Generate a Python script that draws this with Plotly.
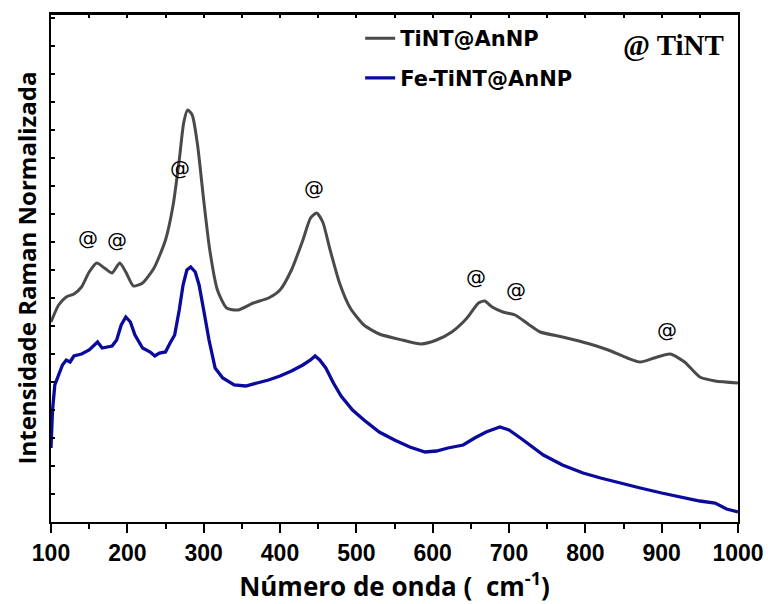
import plotly.graph_objects as go

# TiNT@AnNP (gray)
w_tint = [100,110,120,130,140,150,160,170,180,190,198,208,220,235,250,260,268,274,279,285,292,300,308,318,330,345,365,385,400,415,430,440,448,456,465,478,492,510,530,560,585,605,625,645,660,668,678,692,708,725,741,770,806,830,855,872,890,911,930,950,970,1000]
i_tint = [200,217,225,228,235,250,259,254,249,259,250,236,239,254,282,317,362,400,412,407,377,322,272,232,214,212,219,224,232,252,282,304,309,300,274,239,214,197,188,182,178,182,190,204,219,221,215,210,207,198,190,185,178,172,164,160,164,168,160,145,141,139]

# Fe-TiNT@AnNP (blue)
w_fe = [100,102,105,110,115,120,125,130,140,150,156,161,167,173,180,186,192,198,204,210,220,230,236,242,250,256,262,268,273,278,283,289,294,300,307,315,325,340,355,370,385,400,415,430,440,446,452,460,470,480,495,510,530,550,570,590,605,620,640,655,670,688,700,715,730,745,770,797,820,850,872,900,925,950,970,985,1000]
i_fe = [74,112,137,147,157,162,160,166,168,172,177,180,174,175,176,182,197,205,200,187,174,170,166,169,170,179,187,212,237,252,255,250,237,212,182,154,144,137,136,139,142,146,151,157,162,166,162,154,139,126,112,102,90,82,75,70,71,74,77,84,90,95,92,84,75,67,57,49,44,38,34,29,25,21,19,13,10]

# x tick labels
x_ticks = [100, 200, 300, 400, 500, 600, 700, 800, 900, 1000]
x_ticklabels = ["<b>%d</b>" % v for v in x_ticks]

# "@" markers (TiNT peaks) label positions
at_x = [148, 187, 269, 444, 657, 709, 907]
at_y = [284, 282, 354, 334, 245, 232, 192]

fig = go.Figure()
fig.add_trace(go.Scatter(x=w_tint, y=i_tint, mode="lines", name="<b>TiNT@AnNP</b>",
                         line=dict(color="#4a4a4a", width=3, shape="spline", smoothing=0.6),
                         legend="legend", showlegend=True))
fig.add_trace(go.Scatter(x=w_fe, y=i_fe, mode="lines", name="<b>Fe-TiNT@AnNP</b>",
                         line=dict(color="#0a0a9c", width=3.3),
                         legend="legend2", showlegend=True))
# top axis (inward ticks)
fig.add_trace(go.Scatter(x=[100, 1000], y=[0, 0], xaxis="x2", mode="lines",
                         line=dict(width=0), showlegend=False, hoverinfo="skip"))

for xx, yy in zip(at_x, at_y):
    fig.add_annotation(x=xx, y=yy, text="@", showarrow=False,
                       font=dict(family="DejaVu Sans", size=20, color="black"))

fig.add_annotation(x=915, y=477, text="<b>@ TiNT</b>", showarrow=False,
                   font=dict(family="Liberation Serif", size=29, color="black"))

# top edge of the frame, in axis-domain coordinates
fig.add_shape(type="line", xref="x domain", yref="y domain", x0=0, x1=1, y0=1, y1=1,
              line=dict(color="black", width=2), layer="above")

legfont = dict(family="DejaVu Sans", size=21, color="black")
fig.update_layout(
    width=768, height=604,
    showlegend=True,
    margin=dict(l=51, r=30, t=14, b=82, autoexpand=False),
    paper_bgcolor="white", plot_bgcolor="white",
    legend=dict(x=0.45, y=0.992, xanchor="left", yanchor="top", font=legfont,
                bgcolor="rgba(0,0,0,0)", itemwidth=30),
    legend2=dict(x=0.45, y=0.914, xanchor="left", yanchor="top", font=legfont,
                 bgcolor="rgba(0,0,0,0)", itemwidth=30),
    xaxis=dict(range=[100, 1000], showline=True, linecolor="black", linewidth=2,
               mirror=True, automargin=False,
               ticks="outside", ticklen=9, tickwidth=2, tickcolor="black",
               tickvals=x_ticks, ticktext=x_ticklabels,
               minor=dict(ticks="outside", ticklen=5, tickwidth=2, dtick=50, tickcolor="black"),
               showgrid=False, zeroline=False,
               tickfont=dict(family="Liberation Sans", size=23, color="black"),
               title=dict(text="<b>Número de onda (  cm<sup>-1</sup>)</b>",
                          font=dict(family="Open Sans", size=26, color="black"), standoff=4)),
    xaxis2=dict(range=[100, 1000], overlaying="x", side="top", anchor="y",
                showline=True, linecolor="black", linewidth=2, ticks="inside",
                ticklen=4, tickwidth=1.5, tickcolor="black", dtick=50,
                showticklabels=False, showgrid=False, zeroline=False, automargin=False),
    yaxis=dict(range=[0, 508], showline=True, linecolor="black", linewidth=2,
               mirror=True, ticks="inside", ticklen=4, tickwidth=1.5, tickcolor="black",
               dtick=28, tick0=0, showticklabels=False, showgrid=False, zeroline=False,
               automargin=False,
               title=dict(text="<b>Intensidade Raman Normalizada</b>",
                          font=dict(family="Open Sans", size=24, color="black"), standoff=6)),
)
fig.write_html("out.html", config={"displayModeBar": False})
